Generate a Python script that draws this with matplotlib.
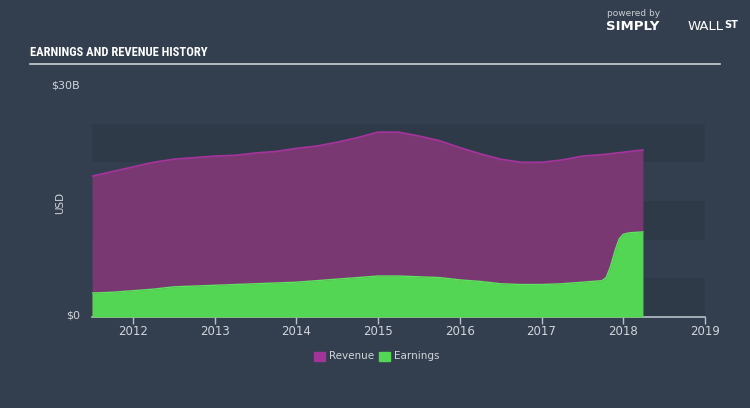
import matplotlib
matplotlib.use("Agg")
import matplotlib.pyplot as plt
from matplotlib import font_manager
from matplotlib.patches import Rectangle

# data (USD billions)
rev_years = [2011.5, 2011.75, 2012.0, 2012.25, 2012.5, 2012.75, 2013.0, 2013.25, 2013.5, 2013.75,
             2014.0, 2014.25, 2014.5, 2014.75, 2015.0, 2015.25, 2015.5, 2015.75, 2016.0, 2016.25,
             2016.5, 2016.75, 2017.0, 2017.25, 2017.5, 2017.75, 2018.0, 2018.24]
revenue = [18.2, 18.8, 19.4, 20.0, 20.4, 20.6, 20.8, 20.9, 21.2, 21.4,
           21.8, 22.1, 22.6, 23.2, 23.9, 23.9, 23.4, 22.8, 21.9, 21.1,
           20.4, 20.0, 20.0, 20.3, 20.8, 21.0, 21.3, 21.6]

earn_years = [2011.5, 2011.75, 2012.0, 2012.25, 2012.5, 2012.75, 2013.0, 2013.25, 2013.5, 2013.75,
              2014.0, 2014.25, 2014.5, 2014.75, 2015.0, 2015.25, 2015.5, 2015.75, 2016.0, 2016.25,
              2016.5, 2016.75, 2017.0, 2017.25, 2017.5, 2017.74, 2017.79, 2017.84, 2017.9,
              2017.95, 2018.0, 2018.08, 2018.24]
earnings = [3.1, 3.2, 3.4, 3.6, 3.9, 4.0, 4.1, 4.2, 4.3, 4.4,
            4.5, 4.7, 4.9, 5.1, 5.3, 5.3, 5.2, 5.1, 4.8, 4.6,
            4.3, 4.2, 4.2, 4.3, 4.5, 4.7, 5.1, 6.4, 8.6, 10.1, 10.7, 10.9, 11.0]

year_ticks = [2012, 2013, 2014, 2015, 2016, 2017, 2018, 2019]

bg = "#333f4f"
band = "#2e3a48"
txt = "#d0d5da"

# pick a narrow font for the title if one is installed
installed = {f.name for f in font_manager.fontManager.ttflist}
title_font = "Roboto"
for cand in ["Liberation Sans Narrow", "DejaVu Sans Condensed", "Roboto Condensed", "Open Sans Condensed"]:
    if cand in installed:
        title_font = cand
        break

fig = plt.figure(figsize=(7.5, 4.08), dpi=100, facecolor=bg)
ax = fig.add_axes([92/750, (408-317)/408, (705-92)/750, (317-85)/408])
ax.set_facecolor(bg)
ax.set_xlim(2011.5, 2019)
ax.set_ylim(0, 30)

# alternating bands
for lo in [0, 10, 20]:
    ax.axhspan(lo, lo + 5, color=band, zorder=0, lw=0)

ax.fill_between(rev_years, revenue, color="#793872", lw=0, zorder=1)
ax.plot(rev_years, revenue, color="#a3349a", lw=1.3, zorder=2)
ax.fill_between(earn_years, earnings, color="#53d653", lw=0, zorder=3)
ax.plot(earn_years, earnings, color="#5ee35e", lw=1.0, zorder=4)

for s in ["top", "right", "left"]:
    ax.spines[s].set_visible(False)
ax.spines["bottom"].set_color("#b8c0c8")
ax.spines["bottom"].set_linewidth(1.2)

ax.set_xticks(year_ticks)
ax.set_xticklabels([str(y) for y in year_ticks], fontsize=8.5)
ax.tick_params(axis="x", colors="#b8c0c8", length=5, width=1, direction="out", pad=1)
for lab in ax.get_xticklabels():
    lab.set_color(txt)
ax.set_yticks([])

fig.text(80/750, 1 - 85/408, "$30B", color=txt, fontsize=8, ha="right", va="center")
fig.text(80/750, 1 - 316/408, "$0", color=txt, fontsize=8, ha="right", va="center")
fig.text(60/750, 1 - 203/408, "USD", color=txt, fontsize=7.5, rotation=90, ha="center", va="center")

# title and rule
fig.text(30/750, 1 - 53/408, "EARNINGS AND REVENUE HISTORY", color="white", fontsize=9,
         fontweight="bold", family=[title_font, "DejaVu Sans"], ha="left", va="center")
fig.add_artist(plt.Line2D([30/750, 720/750], [1 - 64/408, 1 - 64/408], color="#c8ced4", lw=1.2))

# logo text
fig.text(607/750, 1 - 14/408, "powered by", color="#c8ced4", fontsize=6.5, ha="left", va="center")
fig.text(606/750, 1 - 27/408, "SIMPLY", color="white", fontsize=9.5, fontweight="bold", ha="left", va="center")
fig.text(688/750, 1 - 27/408, "WALL", color="white", fontsize=9.5, ha="left", va="center")
fig.text(724/750, 1 - 25/408, "ST", color="white", fontsize=7, fontweight="bold", ha="left", va="center")

# legend
for x0, col, name in [(314, "#a3349a", "Revenue"), (379, "#53d653", "Earnings")]:
    fig.add_artist(Rectangle((x0/750, 1 - 361/408), 11/750, 9/408, color=col, transform=fig.transFigure))
    fig.text((x0 + 15)/750, 1 - 356/408, name, color=txt, fontsize=7.5, ha="left", va="center")

plt.savefig("out.png", dpi=100, facecolor=bg)
